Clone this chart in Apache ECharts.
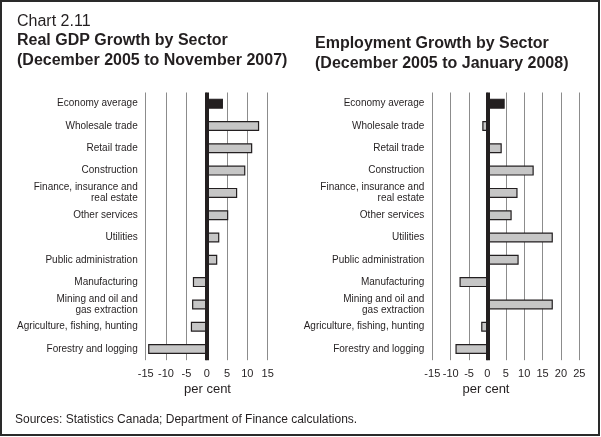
<!DOCTYPE html>
<html>
<head>
<meta charset="utf-8">
<script src="https://cdn.jsdelivr.net/npm/echarts@6/dist/echarts.min.js"></script>
<style>
html,body{margin:0;padding:0;background:#fff;}
#chart{width:601px;height:437px;}
</style>
</head>
<body>
<div id="chart"></div>
<script>
const categories = [
  'Economy average', 'Wholesale trade', 'Retail trade', 'Construction',
  'Finance, insurance and\nreal estate', 'Other services', 'Utilities',
  'Public administration', 'Manufacturing', 'Mining and oil and\ngas extraction',
  'Agriculture, fishing, hunting', 'Forestry and logging'
];
const gdpValues = [4.0, 12.9, 11.2, 9.5, 7.5, 5.3, 3.1, 2.6, -3.4, -3.6, -3.9, -14.4];
const empValues = [4.7, -1.4, 3.9, 12.6, 8.2, 6.6, 17.8, 8.5, -7.6, 17.8, -1.7, -8.7];
const gdpTicks = { min: -15, max: 15, interval: 5 };
const empTicks = { min: -15, max: 25, interval: 5 };

const FONT = 'Liberation Sans, Arial, Helvetica, sans-serif';
const TXT = '#231f20';
const BAR = '#c6c6c6';

function toData(vals) {
  return vals.map((v, i) => i === 0
    ? { value: v, itemStyle: { color: TXT } }
    : { value: v });
}

function makeX(gi, t) {
  return {
    type: 'value', gridIndex: gi, min: t.min, max: t.max, interval: t.interval,
    axisLine: { show: false }, axisTick: { show: false },
    splitLine: { show: true, showMinLine: true, showMaxLine: true, lineStyle: { color: '#8c8c8c', width: 1 } },
    axisLabel: { color: TXT, fontSize: 11, fontFamily: FONT, margin: 8 }
  };
}
function makeY(gi) {
  return {
    type: 'category', gridIndex: gi, data: categories, inverse: true,
    axisLine: { show: false }, axisTick: { show: false }, splitLine: { show: false },
    axisLabel: { color: TXT, fontSize: 10, fontFamily: FONT, margin: 8, lineHeight: 11, align: 'right', interval: 0 }
  };
}
function makeSeries(gi, vals) {
  return {
    type: 'bar', xAxisIndex: gi, yAxisIndex: gi, data: toData(vals),
    barWidth: 10, animation: false,
    itemStyle: { color: BAR, borderColor: TXT, borderWidth: 1.2 },
    markLine: {
      silent: true, symbol: 'none', label: { show: false },
      lineStyle: { color: TXT, width: 4, type: 'solid' },
      data: [{ xAxis: 0 }]
    }
  };
}

const chart = echarts.init(document.getElementById('chart'), null, { renderer: 'canvas' });
chart.setOption({
  animation: false,
  textStyle: { fontFamily: FONT },
  grid: [
    { left: 145.7, right: 601 - 267.7, top: 92.5, bottom: 437 - 360.2, containLabel: false },
    { left: 432.3, right: 601 - 579.3, top: 92.5, bottom: 437 - 360.2, containLabel: false }
  ],
  xAxis: [makeX(0, gdpTicks), makeX(1, empTicks)],
  yAxis: [makeY(0), makeY(1)],
  series: [makeSeries(0, gdpValues), makeSeries(1, empValues)],
  graphic: [
    { type: 'rect', shape: { x: 1, y: 1, width: 598, height: 434 }, style: { fill: 'none', stroke: '#2a2a2a', lineWidth: 2 }, silent: true },
    { type: 'text', left: 17, top: 14, style: { text: 'Chart 2.11', font: '16px ' + FONT, fill: TXT } },
    { type: 'text', left: 17, top: 33, style: { text: 'Real GDP Growth by Sector', font: 'bold 16px ' + FONT, fill: TXT } },
    { type: 'text', left: 17, top: 53, style: { text: '(December 2005 to November 2007)', font: 'bold 16px ' + FONT, fill: TXT } },
    { type: 'text', left: 315, top: 36, style: { text: 'Employment Growth by Sector', font: 'bold 16px ' + FONT, fill: TXT } },
    { type: 'text', left: 315, top: 56, style: { text: '(December 2005 to January 2008)', font: 'bold 16px ' + FONT, fill: TXT } },
    { type: 'text', x: 207.5, y: 389, style: { text: 'per cent', font: '13px ' + FONT, fill: TXT, align: 'center', verticalAlign: 'middle' } },
    { type: 'text', x: 486, y: 389, style: { text: 'per cent', font: '13px ' + FONT, fill: TXT, align: 'center', verticalAlign: 'middle' } },
    { type: 'text', x: 15, y: 420, style: { text: 'Sources: Statistics Canada; Department of Finance calculations.', font: '12px ' + FONT, fill: TXT, verticalAlign: 'middle' } }
  ]
});
</script>
</body>
</html>
